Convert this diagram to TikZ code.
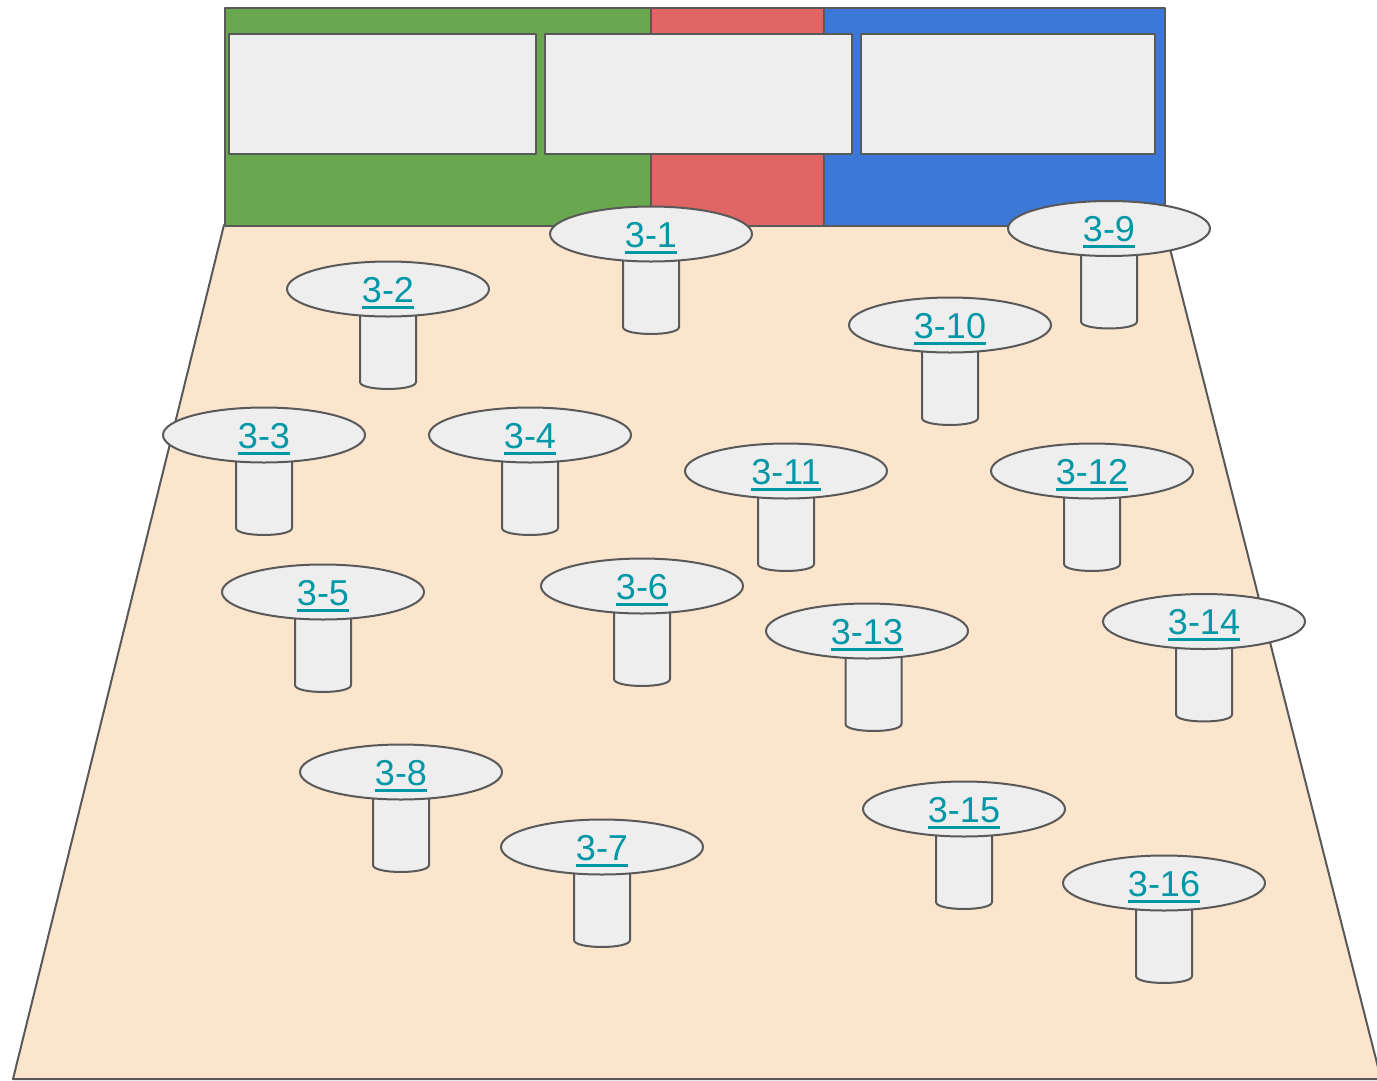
\documentclass[tikz,border=0pt]{standalone}
\usepackage{fontspec}
\setmainfont{Liberation Sans}
\usetikzlibrary{shapes.geometric}
\definecolor{edge}{HTML}{595959}
\definecolor{gfill}{HTML}{6AA84F}
\definecolor{rfill}{HTML}{E06666}
\definecolor{bfill}{HTML}{3C78D8}
\definecolor{floor}{HTML}{FCE5CD}
\definecolor{light}{HTML}{EEEEEE}
\definecolor{link}{HTML}{0097A7}
\tikzset{
  outline/.style={draw=edge, line width=2pt, line join=round},
  tabletop/.style={outline, fill=light, ellipse, minimum width=202pt, minimum height=55pt, inner sep=0pt},
  leg/.style={outline, fill=light},
  lbl/.style={text=link, inner sep=0pt, anchor=base, font=\fontsize{36}{40}\selectfont},
  ul/.style={draw=link, line width=3pt},
}
% #1 name, #2 x, #3 y, #4 label, #5 leg x
\newcommand\tbl[5]{%
  \draw[leg] (#5-28,#3) -- (#5-28,#3+93) .. controls (#5-28,#3+102.3) and (#5+28,#3+102.3) .. (#5+28,#3+93) -- (#5+28,#3) -- cycle;
  \node[tabletop] (t#1) at (#2,#3) {};
  \node[lbl] (l#1) at (#2,#3+13) {#4};
  \draw[ul] ([yshift=-5pt]l#1.base west) -- ([yshift=-5pt]l#1.base east);
}
\begin{document}
\begin{tikzpicture}[x=1pt,y=-1pt]
\useasboundingbox (0,0) rectangle (1377,1080);
% floor
\draw[outline, fill=floor] (224,225) -- (1164,225) -- (1381,1079) -- (13,1079) -- cycle;
% band
\node[outline, fill=gfill, minimum width=426pt, minimum height=218pt, inner sep=0pt, anchor=north west] (green) at (224,7) {};
\node[outline, fill=rfill, minimum width=173pt, minimum height=218pt, inner sep=0pt, anchor=north west] (red) at (650,7) {};
\node[outline, fill=bfill, minimum width=341pt, minimum height=218pt, inner sep=0pt, anchor=north west] (blue) at (823,7) {};
\node[outline, fill=light, minimum width=307pt, minimum height=120pt, inner sep=0pt, anchor=north west] (box1) at (228,33) {};
\node[outline, fill=light, minimum width=307pt, minimum height=120pt, inner sep=0pt, anchor=north west] (box2) at (544,33) {};
\node[outline, fill=light, minimum width=294pt, minimum height=120pt, inner sep=0pt, anchor=north west] (box3) at (860,33) {};
% tables
\tbl{1}{651}{234}{3-1}{651}
\tbl{2}{388}{289}{3-2}{388}
\tbl{9}{1109}{228.5}{3-9}{1109}
\tbl{10}{950}{325}{3-10}{950}
\tbl{3}{264}{435}{3-3}{264}
\tbl{4}{530}{435}{3-4}{530}
\tbl{11}{786}{471}{3-11}{786}
\tbl{12}{1092}{471}{3-12}{1092}
\tbl{6}{642}{586}{3-6}{642}
\tbl{5}{323}{592}{3-5}{323}
\tbl{14}{1204}{621.5}{3-14}{1204}
\tbl{13}{867}{631}{3-13}{873.5}
\tbl{8}{401}{772}{3-8}{401}
\tbl{15}{964}{809}{3-15}{964}
\tbl{7}{602}{847}{3-7}{602}
\tbl{16}{1164}{883}{3-16}{1164}
\end{tikzpicture}
\end{document}
